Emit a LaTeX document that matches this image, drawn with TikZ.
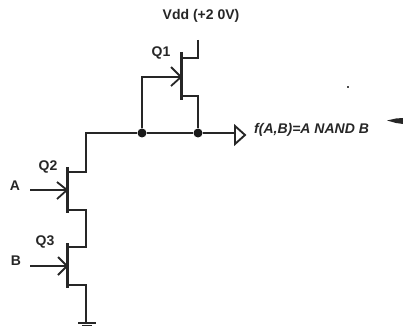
\documentclass[tikz,border=0pt]{standalone}
\usepackage{fontspec}
\setmainfont{Liberation Sans}
\tikzset{
  wire/.style={line width=1.6pt,black!85,line join=miter},
  bar/.style={line width=3pt,black!85},
  gatearrow/.style={line width=1.8pt,black!85},
  lab/.style={font=\fontsize{14}{16}\selectfont\bfseries,text=black!85,inner sep=0pt},
  jn/.style={circle,fill=black!90,inner sep=0pt,minimum size=9pt},
}
\begin{document}
\begin{tikzpicture}[x=1pt,y=-1pt]
\useasboundingbox (0,0) rectangle (403,328);
% named points
\coordinate (vdd) at (198,40);
\coordinate (q1t) at (181,52);
\coordinate (q1b) at (181,100);
\coordinate (q1g) at (181,77);
\coordinate (q2t) at (67,167);
\coordinate (q2b) at (67,213);
\coordinate (q2g) at (67,190);
\coordinate (q3t) at (67,243);
\coordinate (q3b) at (67,288);
\coordinate (q3g) at (67,266);
\coordinate (ain) at (30,190);
\coordinate (bin) at (30,266);
\coordinate (gnd) at (86,323);
\coordinate (wl) at (86,133);
\coordinate (tri) at (235,133);
\node[jn] (j1) at (142,133) {};
\node[jn] (j2) at (198,133) {};
% transistor channels
\draw[bar] (q1t) -- (q1b);
\draw[bar] (q2t) -- (q2b);
\draw[bar] (q3t) -- (q3b);
% wires
\draw[wire] (vdd) |- (181,58);
\draw[wire] (181,96) -| (j2);
\draw[wire] (j1) |- (q1g);
\draw[wire] (67,172) -| (wl) -- (j1) -- (j2) -- (tri);
\draw[wire] (67,210) -| (86,247) -- (67,247);
\draw[wire] (67,285) -| (gnd);
% output triangle
\node[lab,anchor=west] (out) at (254,130) {\itshape f(A,B)=A NAND B};
\draw[line width=1.9pt,black!85,line join=miter] (235,126) -- (245,135) -- (235,144) -- cycle;
% gate arrows
\draw[gatearrow] (ain) -- (q2g);
\draw[gatearrow] (bin) -- (q3g);
\draw[gatearrow] (q1g) -- (171,67) (q1g) -- (171,86);
\draw[gatearrow] (q2g) -- (57,182) (q2g) -- (57,199);
\draw[gatearrow] (q3g) -- (58,257) (q3g) -- (58,275);
% ground
\draw[wire] (78,323) -- (96,323);
\draw[wire] (82,325.5) -- (92,325.5);
% labels
\node[lab] (vl) at (201,16) {Vdd (+2 0V)};
\node[lab] (q1l) at (161,53) {Q1};
\node[lab] (q2l) at (48,167) {Q2};
\node[lab] (q3l) at (45,242) {Q3};
\node[lab] (al) at (15,186) {A};
\node[lab] (bl) at (16,261) {B};
% specks from the scan
\fill[black!85] (387,120.5) -- (396,118.5) -- (403,118) -- (403,124) -- (396,123) -- cycle;
\fill[black!70] (346.5,86) rectangle (349,88);
\end{tikzpicture}
\end{document}
